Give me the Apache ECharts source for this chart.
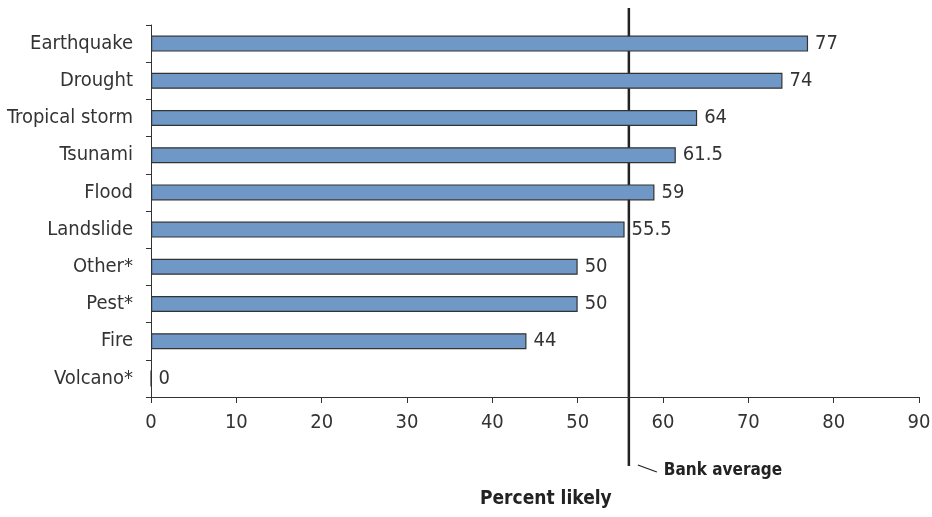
<!DOCTYPE html>
<html><head><meta charset="utf-8">
<script src="https://cdn.jsdelivr.net/npm/echarts@6/dist/echarts.min.js"></script>
<style>html,body{margin:0;padding:0;background:#fff}#c{width:932px;height:517px}</style>
</head><body><div id="c"></div>
<script>
const categories = ["Earthquake","Drought","Tropical storm","Tsunami","Flood","Landslide","Other*","Pest*","Fire","Volcano*"];
const values = [77,74,64,61.5,59,55.5,50,50,44,0];
const bankAverage = 56;
const xTicks = [0,10,20,30,40,50,60,70,80,90];
const FONT = "'Liberation Sans Narrow','DejaVu Sans Condensed','Roboto Condensed',sans-serif";
const chart = echarts.init(document.getElementById('c'));
chart.setOption({
  animation:false,
  title:{text:'Percent likely',left:480,top:490,padding:0,
    textStyle:{color:'#222',fontFamily:FONT,fontSize:19,fontWeight:'bold'}},
  grid:{left:151,right:13,top:25,bottom:120,outerBoundsMode:'none',containLabel:false},
  xAxis:{type:'value',min:xTicks[0],max:xTicks[xTicks.length-1],interval:10,
    splitLine:{show:false},
    axisLine:{show:true,lineStyle:{color:'#333',width:1}},
    axisTick:{show:true,length:6,lineStyle:{color:'#333'}},
    axisLabel:{color:'#333',fontFamily:FONT,fontSize:20,margin:16}
  },
  yAxis:{type:'category',data:categories,inverse:true,
    axisLine:{show:true,lineStyle:{color:'#333'}},
    axisTick:{show:true,length:5,inside:false,lineStyle:{color:'#333'}},
    axisLabel:{color:'#333',fontFamily:FONT,fontSize:20,margin:18}
  },
  series:[{type:'bar',data:values,barCategoryGap:'57%',
    itemStyle:{color:'#7098C6',borderColor:'#333',borderWidth:1.2},
    label:{show:true,position:'right',distance:7,color:'#333',fontFamily:FONT,fontSize:20}
  }]
});
const x = chart.convertToPixel({xAxisIndex:0}, bankAverage);
chart.setOption({graphic:[
  {type:'line',shape:{x1:x,y1:8,x2:x,y2:466},style:{stroke:'#222',lineWidth:2.5}},
  {type:'line',shape:{x1:x+9,y1:465,x2:x+28,y2:472},style:{stroke:'#222',lineWidth:1.2}},
  {type:'text',x:x+35,y:471,style:{text:'Bank average',fill:'#222',font:"bold 17px "+FONT,textVerticalAlign:'middle'}}
]});
</script></body></html>
